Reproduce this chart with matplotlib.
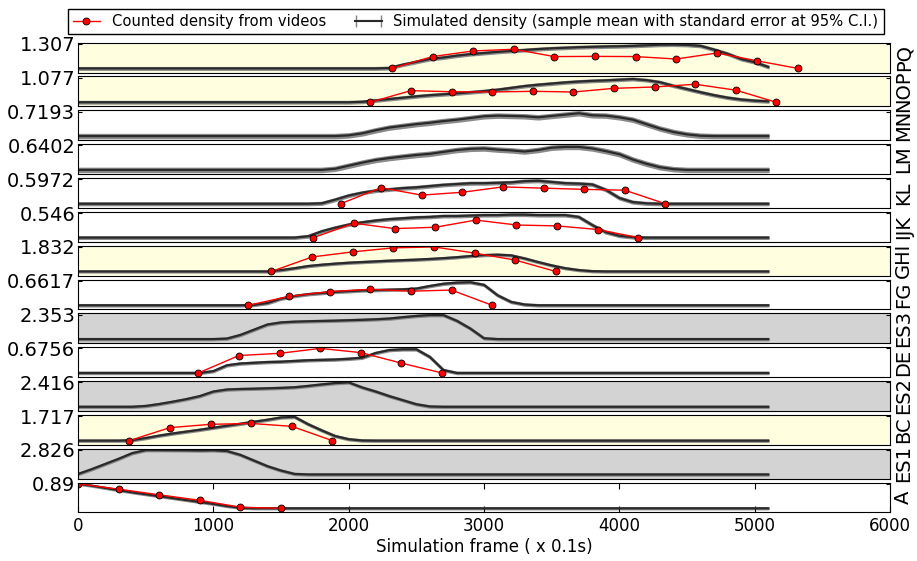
import numpy as np
import matplotlib
matplotlib.use("Agg")
import matplotlib.pyplot as plt
from matplotlib.legend_handler import HandlerErrorbar

# Simulation frames where the simulated mean density was sampled
frames = np.arange(0, 5200, 100)

# Simulated mean density per segment (top panel first)
sim_pq = [0, 0, 0, 0, 0, 0, 0, 0, 0, 0, 0, 0, 0, 0, 0, 0, 0, 0, 0, 0, 0, 0, 0,
          0.02, 0.2, 0.35, 0.5, 0.58, 0.68, 0.76, 0.82, 0.88, 0.93, 0.98, 1.03, 1.07, 1.1,
          1.13, 1.15, 1.17, 1.18, 1.2, 1.23, 1.26, 1.27, 1.25, 1.2, 1.0, 0.78, 0.5, 0.33, 0.08]
sim_nop = [0, 0, 0, 0, 0, 0, 0, 0, 0, 0, 0, 0, 0, 0, 0, 0, 0, 0, 0, 0, 0,
           0.02, 0.08, 0.14, 0.2, 0.26, 0.31, 0.35, 0.39, 0.44, 0.49, 0.55, 0.63, 0.71, 0.77,
           0.82, 0.87, 0.91, 0.94, 0.96, 0.99, 1.02, 0.97, 0.88, 0.72, 0.58, 0.44, 0.31, 0.2,
           0.12, 0.07, 0.04]
sim_mn = [0, 0, 0, 0, 0, 0, 0, 0, 0, 0, 0, 0, 0, 0, 0, 0, 0, 0, 0, 0,
          0.02, 0.08, 0.17, 0.25, 0.3, 0.35, 0.39, 0.44, 0.48, 0.53, 0.58, 0.6, 0.59, 0.58,
          0.55, 0.59, 0.63, 0.67, 0.61, 0.6, 0.55, 0.48, 0.35, 0.22, 0.12, 0.05, 0.01,
          0, 0, 0, 0, 0]
sim_lm = [0, 0, 0, 0, 0, 0, 0, 0, 0, 0, 0, 0, 0, 0, 0, 0, 0, 0, 0,
          0.03, 0.11, 0.19, 0.26, 0.31, 0.35, 0.39, 0.42, 0.47, 0.52, 0.55, 0.56, 0.53, 0.51,
          0.48, 0.52, 0.58, 0.6, 0.6, 0.56, 0.49, 0.41, 0.27, 0.16, 0.07, 0.02,
          0, 0, 0, 0, 0, 0, 0]
sim_kl = [0, 0, 0, 0, 0, 0, 0, 0, 0, 0, 0, 0, 0, 0, 0, 0, 0, 0,
          0.01, 0.1, 0.2, 0.27, 0.32, 0.35, 0.38, 0.4, 0.43, 0.46, 0.48, 0.5, 0.5, 0.51, 0.52,
          0.55, 0.56, 0.53, 0.5, 0.49, 0.47, 0.34, 0.14, 0.04, 0.01,
          0, 0, 0, 0, 0, 0, 0, 0, 0]
sim_ijk = [0, 0, 0, 0, 0, 0, 0, 0, 0, 0, 0, 0, 0, 0, 0, 0, 0,
           0.03, 0.14, 0.22, 0.29, 0.34, 0.38, 0.41, 0.43, 0.45, 0.46, 0.48, 0.48, 0.49, 0.5,
           0.5, 0.51, 0.51, 0.5, 0.5, 0.5, 0.46, 0.28, 0.12, 0.04, 0.01,
           0, 0, 0, 0, 0, 0, 0, 0, 0, 0]
sim_ghi = [0, 0, 0, 0, 0, 0, 0, 0, 0, 0, 0, 0, 0, 0, 0,
           0.1, 0.24, 0.4, 0.5, 0.58, 0.65, 0.7, 0.75, 0.8, 0.84, 0.88, 0.93, 0.99, 1.06, 1.15,
           1.22, 1.25, 1.2, 0.97, 0.7, 0.45, 0.24, 0.1, 0.02,
           0, 0, 0, 0, 0, 0, 0, 0, 0, 0, 0, 0, 0]
sim_fg = [0, 0, 0, 0, 0, 0, 0, 0, 0, 0, 0, 0, 0,
          0.01, 0.06, 0.18, 0.25, 0.3, 0.33, 0.36, 0.38, 0.4, 0.41, 0.42, 0.43, 0.45, 0.52,
          0.58, 0.61, 0.62, 0.55, 0.27, 0.09, 0.02,
          0, 0, 0, 0, 0, 0, 0, 0, 0, 0, 0, 0, 0, 0, 0, 0, 0, 0]
sim_es3 = [0, 0, 0, 0, 0, 0, 0, 0, 0, 0, 0,
           0.05, 0.4, 0.9, 1.4, 1.6, 1.67, 1.71, 1.74, 1.77, 1.81, 1.85, 1.9, 1.97, 2.1, 2.22,
           2.3, 2.3, 1.75, 1.0, 0.08,
           0, 0, 0, 0, 0, 0, 0, 0, 0, 0, 0, 0, 0, 0, 0, 0, 0, 0, 0, 0, 0]
sim_de = [0, 0, 0, 0, 0, 0, 0, 0, 0, 0,
          0.05, 0.21, 0.26, 0.28, 0.3, 0.31, 0.33, 0.35, 0.36, 0.37, 0.39, 0.42, 0.55, 0.63,
          0.65, 0.65, 0.44, 0.08,
          0, 0, 0, 0, 0, 0, 0, 0, 0, 0, 0, 0, 0, 0, 0, 0, 0, 0, 0, 0, 0, 0, 0, 0]
sim_es2 = [0, 0, 0, 0, 0,
           0.08, 0.27, 0.5, 0.75, 1.05, 1.5, 1.7, 1.75, 1.78, 1.82, 1.86, 1.92, 2.05, 2.2, 2.33,
           2.4, 1.9, 1.5, 1.05, 0.65, 0.25, 0.03,
           0, 0, 0, 0, 0, 0, 0, 0, 0, 0, 0, 0, 0, 0, 0, 0, 0, 0, 0, 0, 0, 0, 0, 0, 0]
sim_bc = [0, 0, 0, 0,
          0.03, 0.18, 0.35, 0.5, 0.63, 0.76, 0.9, 1.04, 1.18, 1.32, 1.46, 1.62, 1.66, 1.15,
          0.72, 0.32, 0.1, 0.01,
          0, 0, 0, 0, 0, 0, 0, 0, 0, 0, 0, 0, 0, 0, 0, 0, 0, 0, 0, 0, 0, 0, 0, 0, 0, 0, 0, 0,
          0, 0]
sim_es1 = [0.05, 0.6, 1.2, 1.8, 2.45, 2.8, 2.8, 2.79, 2.78, 2.76, 2.78, 2.7, 2.25, 1.6, 0.95,
           0.45, 0.06,
           0, 0, 0, 0, 0, 0, 0, 0, 0, 0, 0, 0, 0, 0, 0, 0, 0, 0, 0, 0, 0, 0, 0, 0, 0, 0, 0, 0,
           0, 0, 0, 0, 0, 0, 0]
sim_a = [0.89, 0.82, 0.74, 0.66, 0.58, 0.51, 0.44, 0.37, 0.3, 0.23, 0.16, 0.08, 0.02,
         0, 0, 0, 0, 0, 0, 0, 0, 0, 0, 0, 0, 0, 0, 0, 0, 0, 0, 0, 0, 0, 0, 0, 0, 0, 0, 0, 0,
         0, 0, 0, 0, 0, 0, 0, 0, 0, 0, 0]

# Standard error of the simulated mean (95% C.I. half width)
sim_se = [0.05, 0.04, 0.05, 0.045, 0.025, 0.02, 0.05, 0.02, 0.07, 0.02, 0.07, 0.05, 0.08, 0.02]

# Density counted from the videos
vid_frames_pq = [2320, 2620, 2920, 3220, 3520, 3820, 4120, 4420, 4720, 5020, 5320]
vid_pq = [0.0, 0.63, 0.93, 1.02, 0.63, 0.64, 0.63, 0.5, 0.82, 0.4, 0.0]
vid_frames_nop = [2160, 2460, 2760, 3060, 3360, 3660, 3960, 4260, 4560, 4860, 5160]
vid_nop = [0.0, 0.51, 0.46, 0.45, 0.48, 0.45, 0.61, 0.67, 0.79, 0.53, 0.0]
vid_frames_kl = [1940, 2240, 2540, 2840, 3140, 3440, 3740, 4040, 4340]
vid_kl = [0.0, 0.39, 0.21, 0.28, 0.41, 0.38, 0.35, 0.33, 0.0]
vid_frames_ijk = [1740, 2040, 2340, 2640, 2940, 3240, 3540, 3840, 4140]
vid_ijk = [0.0, 0.32, 0.2, 0.23, 0.39, 0.28, 0.26, 0.18, 0.0]
vid_frames_ghi = [1430, 1730, 2030, 2330, 2630, 2930, 3230, 3530]
vid_ghi = [0.0, 1.08, 1.46, 1.76, 1.832, 1.37, 0.85, 0.0]
vid_frames_fg = [1260, 1560, 1860, 2160, 2460, 2760, 3060]
vid_fg = [0.0, 0.24, 0.37, 0.43, 0.38, 0.41, 0.0]
vid_frames_de = [890, 1190, 1490, 1790, 2090, 2390, 2690]
vid_de = [0.0, 0.48, 0.54, 0.6756, 0.56, 0.27, 0.0]
vid_frames_bc = [380, 680, 980, 1280, 1580, 1880]
vid_bc = [0.0, 0.91, 1.14, 1.2, 1.0, 0.0]
vid_frames_a = [0, 300, 600, 900, 1200, 1500]
vid_a = [0.89, 0.695, 0.49, 0.29, 0.04, 0.0]

segments = ["PQ", "NOP", "MN", "LM", "KL", "IJK", "GHI", "FG", "ES3", "DE", "ES2", "BC", "ES1", "A"]
max_labels = ["1.307", "1.077", "0.7193", "0.6402", "0.5972", "0.546", "1.832",
              "0.6617", "2.353", "0.6756", "2.416", "1.717", "2.826", "0.89"]
backgrounds = ["lightyellow", "lightyellow", "white", "white", "white", "white", "lightyellow",
               "white", "lightgray", "white", "lightgray", "lightyellow", "lightgray", "white"]

sims = [sim_pq, sim_nop, sim_mn, sim_lm, sim_kl, sim_ijk, sim_ghi,
        sim_fg, sim_es3, sim_de, sim_es2, sim_bc, sim_es1, sim_a]
videos = {
    "PQ": (vid_frames_pq, vid_pq),
    "NOP": (vid_frames_nop, vid_nop),
    "KL": (vid_frames_kl, vid_kl),
    "IJK": (vid_frames_ijk, vid_ijk),
    "GHI": (vid_frames_ghi, vid_ghi),
    "FG": (vid_frames_fg, vid_fg),
    "DE": (vid_frames_de, vid_de),
    "BC": (vid_frames_bc, vid_bc),
    "A": (vid_frames_a, vid_a),
}

fig, axes = plt.subplots(len(segments), 1, figsize=(9.17, 5.61), dpi=100, sharex=True)
fig.subplots_adjust(left=0.085, right=0.9706, top=0.924, bottom=0.0865, hspace=0.13)

for i, ax in enumerate(axes):
    name = segments[i]
    mean = np.array(sims[i])
    se = sim_se[i]
    top = float(max_labels[i])

    ax.set_facecolor(backgrounds[i])
    # confidence band, then the mean on top
    ax.fill_between(frames, mean - se, mean + se, facecolor="#8a8a8a", edgecolor="#8a8a8a",
                    lw=1.5)
    ax.plot(frames, mean, color="#2a2a2a", lw=1.6)

    if name in videos:
        vx, vy = videos[name]
        ax.plot(vx, vy, "-o", color="red", lw=1, ms=5, mfc="red", mec="black", mew=0.6)

    ax.set_xlim(0, 6000)
    ax.set_ylim(-0.17 * top, 1.05 * top)
    ax.set_yticks([top])
    ax.set_yticklabels([max_labels[i]])
    ax.tick_params(axis="y", direction="in", left=True, right=True, length=3,
                   labelsize=14, pad=2)
    ax.yaxis.set_label_position("right")
    ax.set_ylabel(name, fontsize=14, labelpad=3)

    if i < len(segments) - 1:
        ax.tick_params(axis="x", bottom=False, top=False, labelbottom=False)
    else:
        ax.set_xticks(range(0, 7000, 1000))
        ax.tick_params(axis="x", direction="in", top=True, length=4, labelsize=12)
        ax.set_xlabel("Simulation frame ( x 0.1s)", fontsize=12, labelpad=2)

# legend entries
counted = axes[0].plot([], [], "-o", color="red", lw=1, ms=5, mfc="red", mec="black",
                       mew=0.6, label="Counted density from videos")[0]
simulated = axes[0].errorbar([-1000], [0], xerr=[1], fmt="-", color="#2a2a2a", ecolor="gray",
                             elinewidth=1.5, capsize=4,
                             label="Simulated density (sample mean with standard error at 95% C.I.)")
axes[0].legend(handles=[counted, simulated], loc="lower center", bbox_to_anchor=(0.49, 1.04),
               ncol=2, fontsize=10.6, fancybox=False, edgecolor="black", framealpha=1,
               handlelength=1.8, columnspacing=2.0, borderpad=0.35,
               handler_map={simulated: HandlerErrorbar(xerr_size=0.85)})

plt.savefig("out.png")
